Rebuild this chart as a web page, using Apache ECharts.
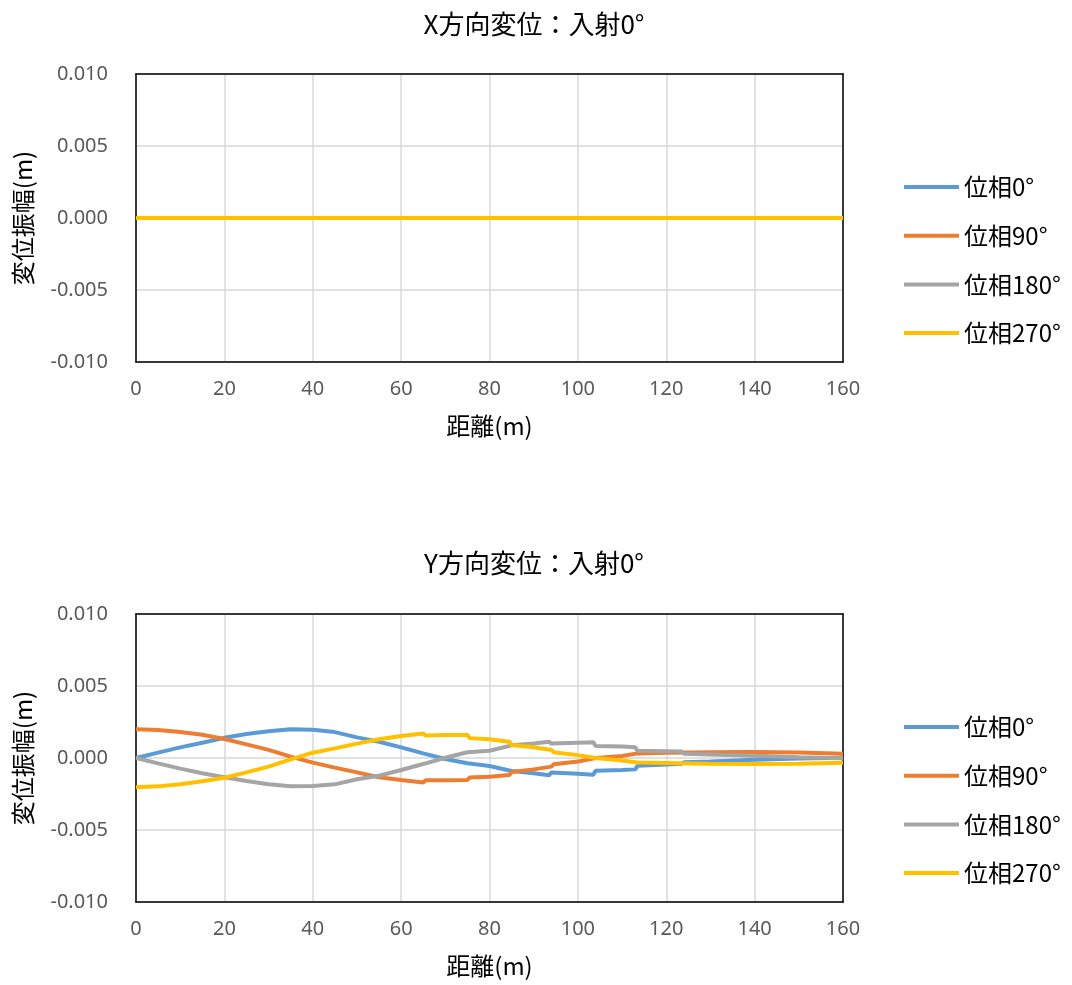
<!DOCTYPE html>
<html><head><meta charset="utf-8">
<script src="https://cdn.jsdelivr.net/npm/echarts@6/dist/echarts.min.js"></script>
<style>html,body{margin:0;padding:0;background:#fff}#c{width:1072px;height:985px}</style>
</head><body><div id="c"></div>
<script>
// ---------- data ----------
const seriesNames = ['位相0°', '位相90°', '位相180°', '位相270°'];
const colors = ['#5b9bd5', '#ed7d31', '#a5a5a5', '#ffc000'];
const xTicks = [0, 20, 40, 60, 80, 100, 120, 140, 160];

// X direction: all zero
const xDirDist = [0, 20, 40, 60, 80, 100, 120, 140, 160];
const xPhase0 = [0, 0, 0, 0, 0, 0, 0, 0, 0];
const xPhase90 = [0, 0, 0, 0, 0, 0, 0, 0, 0];
const xPhase180 = [0, 0, 0, 0, 0, 0, 0, 0, 0];
const xPhase270 = [0, 0, 0, 0, 0, 0, 0, 0, 0];

// Y direction: blue / gray (steps at 94,104,113.5,124)
const distA = [0, 5, 10, 15, 20, 25, 30, 35, 40, 45, 50, 55, 60, 65, 70, 75, 80, 85, 90, 93.5, 94, 100, 103.5, 104, 110, 113, 113.5, 120, 123.5, 124, 130, 140, 150, 160];
const yPhase0 = [0, 0.00037, 0.00074, 0.00106, 0.0014, 0.00167, 0.00185, 0.002, 0.00196, 0.0018, 0.00143, 0.00113, 0.00074, 0.00032, -0.00007, -0.00037, -0.00056, -0.0009, -0.00106, -0.0012, -0.001, -0.00109, -0.00116, -0.00088, -0.00083, -0.00079, -0.00053, -0.00045, -0.0004, -0.0003, -0.00025, -0.00012, -0.00003, 0.00002];
const yPhase180 = [0, -0.00037, -0.00074, -0.00106, -0.00134, -0.0016, -0.00183, -0.00196, -0.00194, -0.00183, -0.00148, -0.00123, -0.00083, -0.00042, 0.00002, 0.0004, 0.0005, 0.00088, 0.001, 0.00113, 0.001, 0.00106, 0.00109, 0.00083, 0.0008, 0.00074, 0.0005, 0.00047, 0.00045, 0.0003, 0.00025, 0.00015, 0.00005, -0.00002];
// orange / yellow (steps at 65,75,84.5,94)
const distB = [0, 5, 10, 15, 20, 25, 30, 35, 40, 45, 50, 55, 60, 65, 65.5, 70, 75, 75.5, 80, 84.5, 85, 90, 94, 94.5, 100, 104, 110, 113.5, 120, 130, 140, 150, 160];
const yPhase90 = [0.002, 0.00195, 0.0018, 0.00162, 0.00132, 0.00095, 0.00056, 0.0001, -0.00032, -0.00067, -0.001, -0.00134, -0.00153, -0.0017, -0.00155, -0.00155, -0.00153, -0.00136, -0.0013, -0.00118, -0.00097, -0.00079, -0.0006, -0.00044, -0.00025, 0, 0.00014, 0.00032, 0.00036, 0.0004, 0.00042, 0.00038, 0.0003];
const yPhase270 = [-0.00203, -0.00197, -0.00183, -0.00162, -0.00137, -0.001, -0.0006, -0.0001, 0.00037, 0.00067, 0.001, 0.0013, 0.00153, 0.0017, 0.00157, 0.0016, 0.0016, 0.00138, 0.0013, 0.00113, 0.0009, 0.00074, 0.00056, 0.0004, 0.0002, 0, -0.00018, -0.00032, -0.00035, -0.0004, -0.00042, -0.0004, -0.00033];

// ---------- chart ----------
const pair = (xs, ys) => xs.map((x, i) => [x, ys[i]]);
const grids = [
  { left: 136, top: 74, width: 707, height: 288 },
  { left: 136, top: 614, width: 707, height: 288 }
];
const fontJP = '"Noto Sans CJK JP", "Noto Sans", sans-serif';
const labelFont = '"Noto Sans", "DejaVu Sans", sans-serif';
const frameLine = { show: true, onZero: false, lineStyle: { color: '#000', width: 1.5 } };

function xAxis(gi) {
  return {
    gridIndex: gi, type: 'value', min: 0, max: 160, interval: 20,
    name: '距離(m)', nameLocation: 'middle', nameGap: 52,
    nameTextStyle: { fontFamily: fontJP, fontSize: 24, color: '#000' },
    axisLine: frameLine, axisTick: { show: false },
    axisLabel: { color: '#595959', fontSize: 20, fontFamily: labelFont, margin: 17 },
    splitLine: { show: true, lineStyle: { color: '#d9d9d9', width: 1.5 } }
  };
}
function yAxis(gi) {
  return {
    gridIndex: gi, type: 'value', min: -0.01, max: 0.01, interval: 0.005,
    name: '変位振幅(m)', nameLocation: 'middle', nameGap: 101, nameRotate: 90,
    nameTextStyle: { fontFamily: fontJP, fontSize: 24, color: '#000' },
    axisLine: frameLine, axisTick: { show: false },
    axisLabel: { color: '#595959', fontSize: 20, fontFamily: labelFont, margin: 28,
      formatter: v => (Math.abs(v) < 1e-9 ? 0 : v).toFixed(3) },
    splitLine: { show: true, lineStyle: { color: '#d9d9d9', width: 1.5 } }
  };
}
function frameX(gi) {
  return { gridIndex: gi, type: 'value', min: 0, max: 160, position: 'top',
    axisLine: frameLine, axisTick: { show: false }, axisLabel: { show: false }, splitLine: { show: false } };
}
function frameY(gi) {
  return { gridIndex: gi, type: 'value', min: -0.01, max: 0.01, position: 'right',
    axisLine: frameLine, axisTick: { show: false }, axisLabel: { show: false }, splitLine: { show: false } };
}
const topData = [xPhase0, xPhase90, xPhase180, xPhase270];
const botData = [pair(distA, yPhase0), pair(distB, yPhase90), pair(distA, yPhase180), pair(distB, yPhase270)];
const series = [];
seriesNames.forEach((n, i) => {
  series.push({ name: n, type: 'line', xAxisIndex: 0, yAxisIndex: 0, data: pair(xDirDist, topData[i]),
    showSymbol: false, lineStyle: { width: 4, color: colors[i] }, itemStyle: { color: colors[i] }, z: 2 + i });
});
seriesNames.forEach((n, i) => {
  series.push({ name: n, type: 'line', xAxisIndex: 1, yAxisIndex: 1, data: botData[i],
    showSymbol: false, lineStyle: { width: 4, color: colors[i] }, itemStyle: { color: colors[i] }, z: 2 + i });
});
function legend(top) {
  return {
    data: seriesNames, orient: 'vertical', left: 899, top: top, itemGap: 24.7,
    itemWidth: 55, itemHeight: 4, icon: 'rect',
    textStyle: { fontFamily: fontJP, fontSize: 24, color: '#000' }
  };
}
const titleStyle = { fontFamily: fontJP, fontSize: 26, fontWeight: 'normal', color: '#000' };
const chart = echarts.init(document.getElementById('c'), null, { renderer: 'canvas' });
chart.setOption({
  animation: false,
  backgroundColor: '#fff',
  color: colors,
  title: [
    { text: 'X方向変位：入射0°', left: 529, top: 6, textAlign: 'center', textStyle: titleStyle },
    { text: 'Y方向変位：入射0°', left: 529, top: 545, textAlign: 'center', textStyle: titleStyle }
  ],
  legend: [legend(170), legend(710)],
  grid: grids,
  xAxis: [xAxis(0), xAxis(1), frameX(0), frameX(1)],
  yAxis: [yAxis(0), yAxis(1), frameY(0), frameY(1)],
  series: series
});
</script></body></html>
